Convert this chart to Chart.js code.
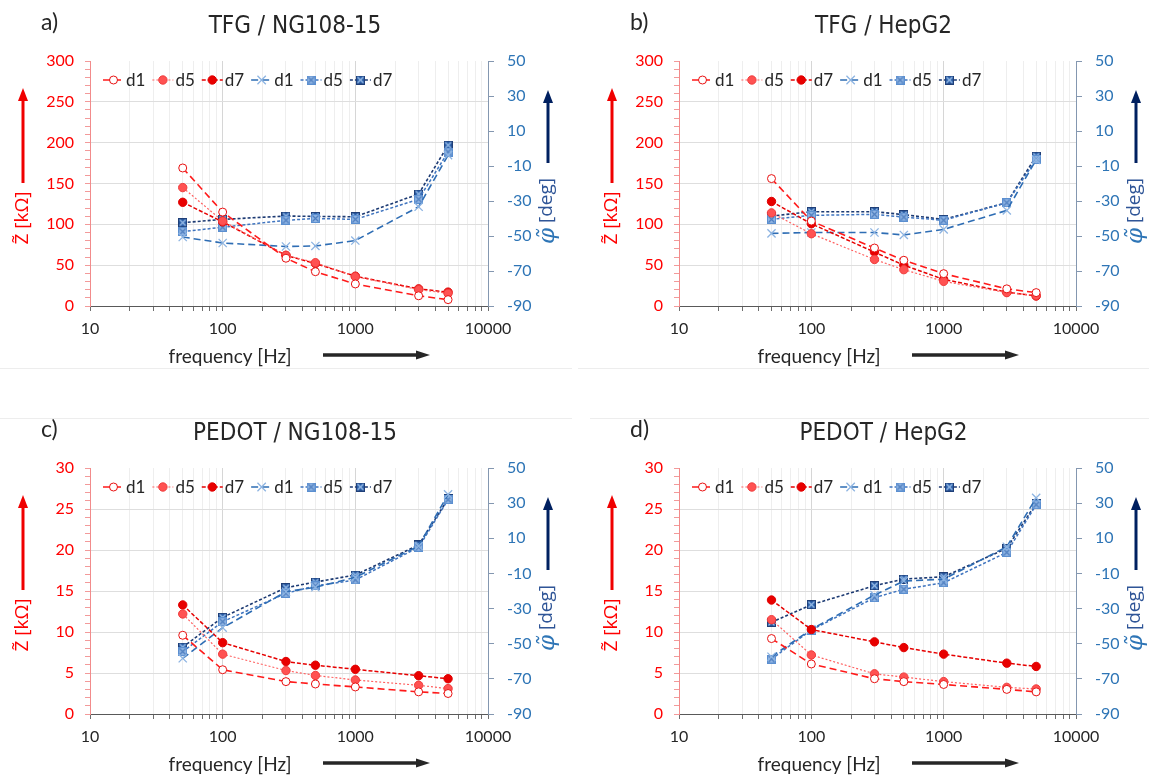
<!DOCTYPE html>
<html><head><meta charset="utf-8">
<script src="https://cdn.jsdelivr.net/npm/chart.js@4.4.1/dist/chart.umd.min.js"></script>
<style>
html,body{margin:0;padding:0;background:#fff;}
body{width:1149px;height:778px;position:relative;overflow:hidden;}
canvas{position:absolute;}
.sep{position:absolute;height:1px;background:#ededed;}
</style></head><body>
<div class="sep" style="left:0;top:368px;width:572px"></div>
<div class="sep" style="left:578px;top:368px;width:571px"></div>
<div class="sep" style="left:0;top:418px;width:572px"></div>
<div class="sep" style="left:590px;top:418px;width:559px"></div>
<canvas id="cA" width="575" height="389" style="left:0;top:0"></canvas>
<canvas id="cB" width="574" height="389" style="left:575px;top:0"></canvas>
<canvas id="cC" width="575" height="389" style="left:0;top:389px"></canvas>
<canvas id="cD" width="574" height="389" style="left:575px;top:389px"></canvas>
<script>
// ---------- data ----------
const frequencies = [50, 100, 300, 500, 1000, 3000, 5000];
const seriesNames = ['d1', 'd5', 'd7'];
const panelTitles = ['TFG / NG108-15', 'TFG / HepG2', 'PEDOT / NG108-15', 'PEDOT / HepG2'];
const panelLetters = ['a)', 'b)', 'c)', 'd)'];
const xTickValues = [10,20,30,40,50,60,70,80,90,100,200,300,400,500,600,700,800,900,1000,2000,3000,4000,5000,6000,7000,8000,9000,10000];
const xLabelValues = [10, 100, 1000, 10000];
const phiTickValues = [-90, -70, -50, -30, -10, 10, 30, 50];
const zRangeTFG = [0, 300];
const zRangePEDOT = [0, 30];
const phiRange = [-90, 50];

// TFG / NG108-15
const aZ_d1 = [169, 115, 58.5, 42, 27, 12.5, 7.8];
const aZ_d5 = [145, 104, 62, 53, 36, 20, 15.5];
const aZ_d7 = [127, 103, 62, 52, 36.5, 21, 17];
const aP_d1 = [-50.6, -54, -56, -55.7, -52.6, -33.3, -3.8];
const aP_d5 = [-47.5, -45, -41, -40, -40.5, -29, -2];
const aP_d7 = [-42.4, -40.5, -38.6, -38.8, -39, -26, 1.9];
// TFG / HepG2
const bZ_d1 = [156, 104, 71, 56, 39.6, 21, 16.4];
const bZ_d5 = [114, 88.5, 57, 44.5, 30.2, 16.4, 13];
const bZ_d7 = [128, 100.7, 66, 50, 32.6, 17, 12.2];
const bP_d1 = [-48.5, -48, -48, -49.4, -46.2, -35.4, -6.5];
const bP_d5 = [-40.5, -38.2, -37.6, -39.2, -41, -31, -6.3];
const bP_d7 = [-38.6, -36.1, -36.1, -37.8, -40.5, -31, -4.4];
// PEDOT / NG108-15
const cZ_d1 = [9.6, 5.4, 3.95, 3.66, 3.3, 2.7, 2.5];
const cZ_d5 = [12.2, 7.3, 5.3, 4.7, 4.15, 3.5, 3.1];
const cZ_d7 = [13.3, 8.7, 6.4, 5.95, 5.45, 4.67, 4.3];
const cP_d1 = [-58.3, -40.9, -20.4, -17.9, -12.2, 5.6, 35];
const cP_d5 = [-54.5, -37.5, -21.3, -17.1, -13.7, 4.9, 32];
const cP_d7 = [-51.9, -35, -18.1, -14.9, -10.9, 6.2, 32.4];
// PEDOT / HepG2
const dZ_d1 = [9.2, 6.1, 4.3, 3.95, 3.6, 3.0, 2.7];
const dZ_d5 = [11.5, 7.2, 4.9, 4.5, 3.95, 3.25, 3.05];
const dZ_d7 = [13.9, 10.3, 8.8, 8.1, 7.3, 6.2, 5.8];
const dP_d1 = [-57.4, -41.8, -22.3, -14.3, -13.3, 5.2, 33];
const dP_d5 = [-58.7, -42.2, -23.8, -19, -15.3, 2, 29.1];
const dP_d7 = [-37.8, -27.8, -17, -13.2, -11.9, 4.3, 29.9];

// ---------- styles ----------
const FONT = 'Lato, "Open Sans", sans-serif';
const TITLE_FONT = '"Liberation Sans Narrow", "DejaVu Sans Condensed", "Liberation Sans", sans-serif';

function boxCross(fill, edge, cross, size) {
  const c = document.createElement('canvas');
  c.width = size; c.height = size;
  const g = c.getContext('2d');
  g.fillStyle = fill; g.fillRect(0, 0, size, size);
  g.strokeStyle = edge; g.lineWidth = 1; g.strokeRect(0.5, 0.5, size - 1, size - 1);
  g.strokeStyle = cross; g.lineWidth = 1.2;
  g.beginPath(); g.moveTo(1.5, 1.5); g.lineTo(size - 1.5, size - 1.5);
  g.moveTo(size - 1.5, 1.5); g.lineTo(1.5, size - 1.5); g.stroke();
  return c;
}
const boxD5 = boxCross('#8fb4e3', '#5b8fd0', '#4f7fc0', 9);
const boxD7 = boxCross('#2a5ea8', '#1f3f78', '#9cc0ea', 9);

const zStyles = [
  {line: '#ff1a1a', lw: 1.6, dash: [7, 4], ps: 'circle', r: 4, fill: '#ffffff', stroke: '#e81010', pbw: 1},
  {line: '#ff6060', lw: 1.2, dash: [2, 2], ps: 'circle', r: 4.2, fill: '#ff5252', stroke: '#f03c3c', pbw: 1},
  {line: '#e60000', lw: 1.5, dash: [4, 2], ps: 'circle', r: 4.2, fill: '#e80000', stroke: '#e00000', pbw: 1}
];
const pStyles = [
  {line: '#2e6db4', lw: 1.6, dash: [7, 4], ps: 'crossRot', r: 5.8, fill: '#8db4e2', stroke: '#8db4e2', pbw: 1.3},
  {line: '#3f74bf', lw: 1.5, dash: [3, 2], ps: boxD5, r: 5, fill: '#8fb4e3', stroke: '#5b8fd0', pbw: 1},
  {line: '#1c3a73', lw: 1.6, dash: [3, 2], ps: boxD7, r: 5, fill: '#2a5ea8', stroke: '#1f3f78', pbw: 1}
];

const panels = [
  {id: 'cA', w: 575, h: 389, area: {left: 90, right: 488, top: 61, bottom: 306}, title: panelTitles[0], letter: panelLetters[0], z: [aZ_d1, aZ_d5, aZ_d7], p: [aP_d1, aP_d5, aP_d7], zr: zRangeTFG, zMinor: 10, zMajor: 50},
  {id: 'cB', w: 574, h: 389, area: {left: 104, right: 501, top: 61, bottom: 306}, title: panelTitles[1], letter: panelLetters[1], z: [bZ_d1, bZ_d5, bZ_d7], p: [bP_d1, bP_d5, bP_d7], zr: zRangeTFG, zMinor: 10, zMajor: 50},
  {id: 'cC', w: 575, h: 389, area: {left: 90, right: 488, top: 79, bottom: 325}, title: panelTitles[2], letter: panelLetters[2], z: [cZ_d1, cZ_d5, cZ_d7], p: [cP_d1, cP_d5, cP_d7], zr: zRangePEDOT, zMinor: 1, zMajor: 5},
  {id: 'cD', w: 574, h: 389, area: {left: 104, right: 501, top: 79, bottom: 325}, title: panelTitles[3], letter: panelLetters[3], z: [dZ_d1, dZ_d5, dZ_d7], p: [dP_d1, dP_d5, dP_d7], zr: zRangePEDOT, zMinor: 1, zMajor: 5}
];

function isDecade(v) { return xLabelValues.indexOf(v) >= 0; }

function drawMarker(ctx, ds, x, y) {
  const ps = ds.pointStyle;
  ctx.save();
  if (typeof ps !== 'string') {
    ctx.drawImage(ps, x - ps.width / 2, y - ps.height / 2);
  } else if (ps === 'crossRot') {
    const r = ds.pointRadius * 0.72;
    ctx.strokeStyle = ds.pointBorderColor; ctx.lineWidth = ds.pointBorderWidth;
    ctx.beginPath(); ctx.moveTo(x - r, y - r); ctx.lineTo(x + r, y + r);
    ctx.moveTo(x + r, y - r); ctx.lineTo(x - r, y + r); ctx.stroke();
  } else {
    ctx.fillStyle = ds.pointBackgroundColor; ctx.strokeStyle = ds.pointBorderColor; ctx.lineWidth = ds.pointBorderWidth;
    ctx.beginPath(); ctx.arc(x, y, ds.pointRadius, 0, Math.PI * 2); ctx.fill(); ctx.stroke();
  }
  ctx.restore();
}

function arrow(ctx, x1, y1, x2, y2, color, w, headLen, headW) {
  const ang = Math.atan2(y2 - y1, x2 - x1);
  const bx = x2 - Math.cos(ang) * headLen, by = y2 - Math.sin(ang) * headLen;
  ctx.save();
  ctx.strokeStyle = color; ctx.fillStyle = color; ctx.lineWidth = w; ctx.lineCap = 'butt';
  ctx.beginPath(); ctx.moveTo(x1, y1); ctx.lineTo(bx, by); ctx.stroke();
  ctx.beginPath(); ctx.moveTo(x2, y2);
  ctx.lineTo(bx + Math.sin(ang) * headW, by - Math.cos(ang) * headW);
  ctx.lineTo(bx - Math.sin(ang) * headW, by + Math.cos(ang) * headW);
  ctx.closePath(); ctx.fill();
  ctx.restore();
}

function decor(pn) {
  return {
    id: 'decor',
    afterDraw(chart) {
      const ctx = chart.ctx, a = chart.chartArea;
      ctx.save();
      // panel letter
      ctx.fillStyle = '#262626'; ctx.textBaseline = 'middle'; ctx.textAlign = 'left';
      ctx.font = '23px ' + FONT;
      ctx.fillText(pn.letter, a.left - 49, a.top - 38);
      // title
      ctx.textAlign = 'center';
      ctx.font = '24px ' + TITLE_FONT;
      ctx.fillText(pn.title, (a.left + a.right) / 2 + 6, a.top - 34);
      // legend
      let x = a.left + 13; const y = a.top + 19;
      ctx.font = '17px ' + FONT;
      chart.data.datasets.forEach(ds => {
        ctx.save();
        ctx.strokeStyle = ds.borderColor; ctx.lineWidth = ds.borderWidth; ctx.setLineDash(ds.borderDash);
        ctx.beginPath(); ctx.moveTo(x, y); ctx.lineTo(x + 21, y); ctx.stroke();
        ctx.restore();
        drawMarker(ctx, ds, x + 10.5, y);
        ctx.fillStyle = '#262626'; ctx.textAlign = 'left'; ctx.textBaseline = 'middle';
        ctx.fillText(ds.label, x + 23, y + 1);
        x += 23 + ctx.measureText(ds.label).width + 7;
      });
      // left axis title + arrow
      ctx.save();
      ctx.translate(a.left - 67, a.top + 157); ctx.rotate(-Math.PI / 2);
      ctx.fillStyle = '#ff0000'; ctx.font = '19px "Open Sans", ' + FONT; ctx.textAlign = 'center'; ctx.textBaseline = 'middle';
      ctx.fillText('Z\u0303 [k\u03A9]', 0, 0);
      ctx.restore();
      arrow(ctx, a.left - 67, a.top + 122, a.left - 67, a.top + 27, '#f00000', 3, 13, 5);
      // right axis title + arrow
      ctx.save();
      ctx.translate(a.right + 59, a.top + 150); ctx.rotate(-Math.PI / 2);
      ctx.textBaseline = 'middle'; ctx.textAlign = 'left';
      const phiTxt = '\u03C6\u0303', degTxt = ' [deg]';
      ctx.font = 'italic 23px "DejaVu Serif", serif';
      const w1 = ctx.measureText(phiTxt).width;
      ctx.font = '19px "Open Sans", ' + FONT;
      const w2 = ctx.measureText(degTxt).width;
      const x0 = -(w1 + w2) / 2;
      ctx.fillStyle = '#2e75b6';
      ctx.font = 'italic 23px "DejaVu Serif", serif';
      ctx.fillText(phiTxt, x0, 1);
      ctx.fillStyle = '#2f5597';
      ctx.font = '19px "Open Sans", ' + FONT;
      ctx.fillText(degTxt, x0 + w1, 0);
      ctx.restore();
      arrow(ctx, a.right + 60, a.top + 102, a.right + 60, a.top + 29, '#002060', 3, 13, 5);
      // x axis title + arrow
      ctx.fillStyle = '#262626'; ctx.font = '19px ' + FONT; ctx.textAlign = 'center'; ctx.textBaseline = 'middle';
      ctx.fillText('frequency [Hz]', a.left + 140, a.bottom + 51);
      arrow(ctx, a.left + 233, a.bottom + 49, a.left + 340, a.bottom + 49, '#262626', 3.5, 14, 4.5);
      ctx.restore();
    }
  };
}

function makeDataset(label, values, st, axis) {
  return {
    label: label, yAxisID: axis,
    data: frequencies.map((f, k) => ({x: f, y: values[k]})),
    borderColor: st.line, borderWidth: st.lw, borderDash: st.dash,
    pointStyle: st.ps, pointRadius: st.r, pointBackgroundColor: st.fill,
    pointBorderColor: st.stroke, pointBorderWidth: st.pbw,
    fill: false, tension: 0
  };
}

panels.forEach(pn => {
  const A = pn.area;
  const datasets = [];
  seriesNames.forEach((nm, i) => datasets.push(makeDataset(nm, pn.z[i], zStyles[i], 'yZ')));
  seriesNames.forEach((nm, i) => datasets.push(makeDataset(nm, pn.p[i], pStyles[i], 'yP')));
  const zTicks = [];
  for (let v = pn.zr[0]; v <= pn.zr[1] + 1e-9; v += pn.zMinor) zTicks.push(Math.round(v * 1000) / 1000);
  const isMajorZ = v => Math.abs(v / pn.zMajor - Math.round(v / pn.zMajor)) < 1e-6;
  new Chart(document.getElementById(pn.id), {
    type: 'line',
    data: {datasets},
    options: {
      responsive: false, animation: false, devicePixelRatio: 1,
      layout: {padding: {left: 0, right: 0, top: A.top, bottom: 0}},
      plugins: {legend: {display: false}, tooltip: {enabled: false}, title: {display: false}},
      scales: {
        x: {
          type: 'logarithmic', position: 'bottom', min: 10, max: 10000,
          afterBuildTicks: s => { s.ticks = xTickValues.map(v => ({value: v})); },
          afterFit: s => { s.height = pn.h - A.bottom; },
          ticks: {autoSkip: false, maxRotation: 0, minRotation: 0, padding: 8, color: '#262626',
                  font: {family: FONT, size: 16}, callback: v => isDecade(v) ? String(v) : ''},
          grid: {color: c => (c.tick && isDecade(c.tick.value)) ? '#d6d6d6' : '#eeeeee',
                 tickColor: '#6e6e6e', tickLength: 5, lineWidth: 1},
          border: {color: '#595959', width: 1}
        },
        yZ: {
          type: 'linear', position: 'left', min: pn.zr[0], max: pn.zr[1],
          afterBuildTicks: s => { s.ticks = zTicks.map(v => ({value: v})); },
          afterFit: s => { s.width = A.left; },
          ticks: {autoSkip: false, padding: 11, color: '#ff0000', font: {family: FONT, size: 16},
                  callback: v => isMajorZ(v) ? String(v) : ''},
          grid: {color: c => (c.tick && isMajorZ(c.tick.value) && c.tick.value > pn.zr[0] && c.tick.value < pn.zr[1]) ? '#dedede' : 'rgba(0,0,0,0)',
                 tickColor: '#f39a9a', tickLength: 5, lineWidth: 1},
          border: {color: '#f28b8b', width: 1}
        },
        yP: {
          type: 'linear', position: 'right', min: phiRange[0], max: phiRange[1],
          afterBuildTicks: s => { s.ticks = phiTickValues.map(v => ({value: v})); },
          afterFit: s => { s.width = pn.w - A.right; },
          ticks: {autoSkip: false, padding: 13, color: '#2e75b6', font: {family: FONT, size: 16}},
          grid: {drawOnChartArea: false, color: '#8497b0', tickLength: 6},
          border: {color: '#8497b0', width: 1}
        }
      }
    },
    plugins: [decor(pn)]
  });
});
</script>
</body></html>
